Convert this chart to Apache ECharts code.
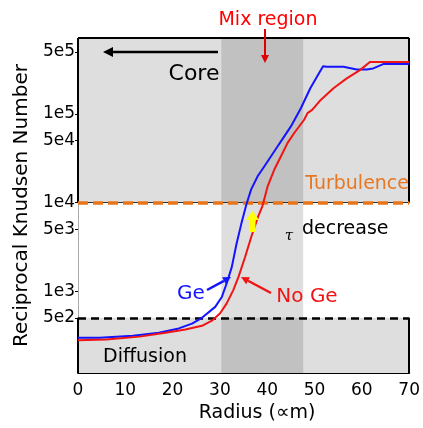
<!DOCTYPE html>
<html>
<head>
<meta charset="utf-8">
<script src="https://cdn.jsdelivr.net/npm/echarts@6/dist/echarts.min.js"></script>
<style>
  html, body { margin: 0; padding: 0; background: #fff; }
  #chart { width: 423px; height: 428px; }
</style>
</head>
<body>
<div id="chart"></div>
<script>
// radius (um) and reciprocal Knudsen number
var geRadius = [0, 4.6, 11.6, 17.1, 21.3, 24.1, 26.2, 29.0, 30.4, 31.4, 32.5, 33.5, 34.5, 35.6, 36.6, 38.0, 39.4, 40.8, 42.2, 43.6, 45.0, 47.1, 49.1, 50.5, 51.8, 52.6, 56.1, 58.9, 61.0, 62.4, 64.5, 70];
var geKn = [299, 299, 315, 340, 380, 430, 500, 665, 861, 1213, 1866, 3410, 5710, 9570, 14100, 19900, 25700, 33300, 43100, 55800, 72300, 116000, 195000, 262000, 346000, 340000, 340000, 318000, 318000, 326000, 365000, 365000];

var noGeRadius = [0, 6, 13, 18.5, 22.7, 26.2, 28.3, 30.0, 31.4, 32.8, 33.9, 35.3, 36.6, 38.0, 39.0, 40.1, 41.5, 42.9, 44.3, 45.7, 47.8, 48.5, 49.5, 51.3, 54.0, 56.8, 59.6, 61.7, 70];
var noGeKn = [279, 284, 307, 340, 370, 407, 465, 560, 724, 1021, 1442, 2417, 4055, 6795, 9200, 15350, 23600, 33300, 47100, 60900, 86000, 102000, 111000, 144000, 195000, 252000, 312000, 386000, 386000];

var yTicks = [500, 1000, 5000, 10000, 50000, 100000, 500000];
var yTickLabels = {500: '5e2', 1000: '1e3', 5000: '5e3', 10000: '1e4', 50000: '5e4', 100000: '1e5', 500000: '5e5'};

var xMin = 0, xMax = 70;
var yMin = 119, yMax = 719000;
var turbulenceLimit = 10000;
var diffusionLimit = 500;
var mixRegion = [30.3, 47.6];

function pairs(xs, ys) {
  return xs.map(function (x, i) { return [x, ys[i]]; });
}

function seg(x1, y1, x2, y2, style) {
  return [{ coord: [x1, y1], lineStyle: style }, { coord: [x2, y2] }];
}

function arrow(x1, y1, x2, y2, color, w, head) {
  var dx = x2 - x1, dy = y2 - y1;
  var len = Math.sqrt(dx * dx + dy * dy);
  var ux = dx / len, uy = dy / len;
  var bx = x2 - ux * head, by = y2 - uy * head;
  var px = -uy * head * 0.5, py = ux * head * 0.5;
  return [
    { type: 'line', shape: { x1: x1, y1: y1, x2: bx, y2: by }, style: { stroke: color, lineWidth: w }, z: 100 },
    { type: 'polygon', shape: { points: [[x2, y2], [bx + px, by + py], [bx - px, by - py]] }, style: { fill: color }, z: 100 }
  ];
}

var font = 'DejaVu Sans';
var chart = echarts.init(document.getElementById('chart'));

var graphics = [
  { type: 'text', x: 268, y: 20, style: { text: 'Mix region', fill: '#ff0000', font: '19px "DejaVu Sans"', align: 'center', verticalAlign: 'middle' }, z: 100 },
  { type: 'text', x: 194, y: 74, style: { text: 'Core', fill: '#000', font: '22px "DejaVu Sans"', align: 'center', verticalAlign: 'middle' }, z: 100 },
  { type: 'text', x: 409, y: 184, style: { text: 'Turbulence', fill: '#e87722', font: '19px "DejaVu Sans"', align: 'right', verticalAlign: 'middle' }, z: 100 },
  { type: 'text', x: 289, y: 236, style: { text: 'τ', fill: '#000', font: 'italic 15px "DejaVu Serif"', align: 'center', verticalAlign: 'middle' }, z: 100 },
  { type: 'text', x: 302, y: 229, style: { text: 'decrease', fill: '#000', font: '19px "DejaVu Sans"', align: 'left', verticalAlign: 'middle' }, z: 100 },
  { type: 'text', x: 191, y: 294, style: { text: 'Ge', fill: '#1414ff', font: '20px "DejaVu Sans"', align: 'center', verticalAlign: 'middle' }, z: 100 },
  { type: 'text', x: 307, y: 297, style: { text: 'No Ge', fill: '#f01414', font: '20px "DejaVu Sans"', align: 'center', verticalAlign: 'middle' }, z: 100 },
  { type: 'text', x: 145, y: 357, style: { text: 'Diffusion', fill: '#000', font: '19px "DejaVu Sans"', align: 'center', verticalAlign: 'middle' }, z: 100 },
  // yellow arrow
  { type: 'polygon', shape: { points: [[252.5, 211], [246, 220], [249.5, 220], [249.5, 232], [255.5, 232], [255.5, 220], [259, 220]] }, style: { fill: '#ffff00' }, z: 100 }
]
  .concat(arrow(265, 29, 265, 63, '#e00000', 2, 8))
  .concat(arrow(218, 52, 103, 52, '#000', 2.5, 10))
  .concat(arrow(207, 290, 231, 277, '#1414ff', 2.5, 8))
  .concat(arrow(271, 293, 241, 277, '#f01414', 2.5, 8));

var solid = { color: '#000', width: 2, type: 'solid' };

chart.setOption({
  animation: false,
  backgroundColor: '#fff',
  grid: { left: 78, right: 10, top: 38, bottom: 53 },
  xAxis: {
    type: 'value',
    min: xMin, max: xMax, interval: 10,
    name: 'Radius (∝m)',
    nameLocation: 'middle',
    nameGap: 27,
    nameTextStyle: { fontFamily: font, fontSize: 19, color: '#000', padding: [0, 0, 0, 27] },
    axisLine: { lineStyle: { color: '#000', width: 2 } },
    axisTick: { inside: true, length: 3, lineStyle: { color: '#888' } },
    axisLabel: { fontFamily: font, fontSize: 17, color: '#000', margin: 9 },
    splitLine: { show: false }
  },
  yAxis: {
    type: 'log',
    min: yMin, max: yMax,
    name: 'Reciprocal Knudsen Number',
    nameLocation: 'middle',
    nameGap: 46,
    nameTextStyle: { fontFamily: font, fontSize: 20, color: '#000' },
    axisLine: { lineStyle: { color: '#aaa', width: 1 } },
    axisTick: { length: 3, customValues: yTicks, lineStyle: { color: '#000' } },
    axisLabel: {
      fontFamily: font, fontSize: 17, color: '#000', margin: 3,
      customValues: yTicks,
      formatter: function (v) { return yTickLabels[Math.round(v)] || ''; }
    },
    splitLine: { show: false }
  },
  series: [
    {
      // shaded regime boxes
      type: 'line', data: [], silent: true,
      markArea: {
        silent: true, z: 1,
        itemStyle: { color: '#dedede', borderWidth: 0 },
        data: [
          [{ xAxis: xMin, yAxis: yMax }, { xAxis: xMax, yAxis: turbulenceLimit }],
          [{ xAxis: xMin, yAxis: diffusionLimit }, { xAxis: xMax, yAxis: yMin }]
        ]
      }
    },
    {
      // mix region band
      type: 'line', data: [], silent: true,
      markArea: {
        silent: true, z: 2,
        itemStyle: { color: 'rgba(0,0,0,0.13)' },
        data: [[{ xAxis: mixRegion[0], yAxis: yMax }, { xAxis: mixRegion[1], yAxis: yMin }]]
      }
    },
    {
      // box borders
      type: 'line', data: [], silent: true,
      markLine: {
        silent: true, z: 4, symbol: 'none', label: { show: false },
        data: [
          seg(xMin, yMax, xMax, yMax, solid),
          seg(xMin, yMax, xMin, turbulenceLimit, solid),
          seg(xMax, yMax, xMax, turbulenceLimit, solid),
          seg(xMin, diffusionLimit, xMin, yMin, solid),
          seg(xMax, diffusionLimit, xMax, yMin, solid)
        ]
      }
    },
    {
      // regime limits
      type: 'line', data: [], silent: true,
      markLine: {
        silent: true, z: 6, symbol: 'none', label: { show: false },
        data: [
          seg(xMin, turbulenceLimit, xMax, turbulenceLimit, { color: '#333', width: 1, type: 'solid' }),
          seg(xMin, turbulenceLimit, xMax, turbulenceLimit, { color: '#e8751a', width: 3.5, type: [10, 5] }),
          seg(xMin, diffusionLimit, xMax, diffusionLimit, { color: '#000', width: 2.5, type: [8, 5] })
        ]
      }
    },
    {
      name: 'Ge', type: 'line', z: 10, showSymbol: false, symbol: 'none',
      data: pairs(geRadius, geKn),
      lineStyle: { color: '#1414ff', width: 2 }
    },
    {
      name: 'No Ge', type: 'line', z: 10, showSymbol: false, symbol: 'none',
      data: pairs(noGeRadius, noGeKn),
      lineStyle: { color: '#f01414', width: 2 }
    }
  ],
  graphic: graphics
});
</script>
</body>
</html>
